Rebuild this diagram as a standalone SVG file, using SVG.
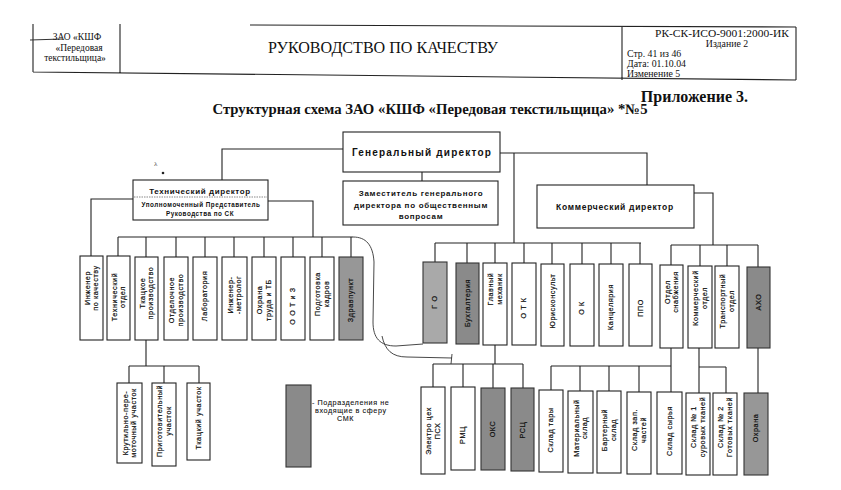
<svg xmlns="http://www.w3.org/2000/svg" width="841" height="490" viewBox="0 0 841 490">
<style>
.b{fill:#fff;stroke:#222;stroke-width:1.1}
.g1{fill:#a9a9a9;stroke:#333;stroke-width:1.1}
.g2{fill:#8a8a8a;stroke:#333;stroke-width:1.1}
.g3{fill:#979797;stroke:#333;stroke-width:1.1}
.c{fill:none;stroke:#222;stroke-width:1.1}
.pen{fill:none;stroke:#333;stroke-width:0.9}
.v{font-family:"Liberation Sans",Arial,sans-serif;font-size:7.2px;letter-spacing:0.6px;fill:#111;stroke:#111;stroke-width:0.2;text-anchor:middle}
.d{font-family:"Liberation Sans",Arial,sans-serif;font-weight:bold;fill:#111;text-anchor:middle}
.s{font-family:"Liberation Serif","Times New Roman",serif;fill:#111}
</style>
<rect width="841" height="490" fill="#fff"/>
<!-- header -->
<g id="header">
<path class="c" d="M33,24 V72 M120,24 V73 M250,25 L796,27 M622,27 V80 M796,27 V80 M33,72 L796,80"/>
<line x1="30" y1="40" x2="62" y2="39" stroke="#333" stroke-width="1"/>
<text class="s" font-size="9.5" text-anchor="middle"><tspan x="77" y="40">ЗАО «КШФ</tspan><tspan x="79" y="51">«Передовая</tspan><tspan x="75" y="61">текстильщица»</tspan></text>
<text class="s" x="383" y="53" font-size="16" text-anchor="middle" textLength="230" lengthAdjust="spacingAndGlyphs">РУКОВОДСТВО ПО КАЧЕСТВУ</text>
<text class="s" font-size="9.8"><tspan x="722" y="37" text-anchor="middle" textLength="134" lengthAdjust="spacingAndGlyphs">РК-СК-ИСО-9001:2000-ИК</tspan><tspan x="727" y="47" text-anchor="middle">Издание  2</tspan><tspan x="627" y="57">Стр. 41  из  46</tspan><tspan x="627" y="67">Дата: 01.10.04</tspan><tspan x="627" y="77">Изменение 5</tspan></text>
</g>
<g id="title">
<text class="s" x="748" y="102" font-size="16" font-weight="bold" text-anchor="end">Приложение 3.</text>
<text class="s" x="430" y="114" font-size="14.5" font-weight="bold" text-anchor="middle" textLength="435" lengthAdjust="spacingAndGlyphs">Структурная  схема  ЗАО  «КШФ  «Передовая  текстильщица»  *№5</text>
</g>
<text x="154" y="166" font-family="Liberation Serif,serif" font-size="7" fill="#444">λ</text>
<circle cx="163" cy="173" r="1.3" fill="#222"/>

<!-- connectors -->
<g id="connectors">
<path class="c" d="M343,149 H222 V180"/>
<path class="c" d="M422,172 V181"/>
<path class="c" d="M500,153 H647 V185"/>
<path class="c" d="M514,153 V243 M435,243 H641 M435,243 V262 M467,243 V263 M495,243 V263 M524,243 V263 M552,243 V264 M582,243 V264 M611,243 V264 M640,243 V264"/>
<path class="c" d="M694,193 H713 V245 M671,245 H758 M671,245 V265 M700,245 V266 M727,245 V266 M758,245 V267"/>
<path class="c" d="M133,199 H91 V256"/>
<path class="c" d="M268,201 H313 V237 M118,237 H353 M118,237 V256 M146,237 V257 M176,237 V257 M205,237 V257 M234,237 V257 M264,237 V257 M293,237 V257 M322,237 V257 M351,237 V257"/>
<path class="c" d="M495,345 V364 M433,364 H523 M433,364 V387 M463,364 V387 M493,364 V388 M523,364 V388"/>
<path class="c" d="M671,348 V366 M551,366 H671 M551,366 V390 M580,366 V391 M609,366 V391 M639,366 V392 M671,366 V392"/>
<path class="c" d="M699,348 V367 H726 M699,367 V393 M726,367 V393"/>
<path class="c" d="M758,348 V393"/>
<path class="c" d="M146,340 V366 M129,366 H199 M129,366 V383 M164,366 V383 M199,366 V383"/>
<path class="pen" d="M353,237 C366,237 373,245 374,262 L373,322 C373,338 380,346 396,346 L423,344"/>
<path class="pen" d="M382,336 C385,350 392,357 407,357 L452,358 M452,354 L451,364"/>
</g>

<!-- directors -->
<g id="gen"><rect class="b" x="343" y="132" width="157" height="40"/><text class="d" x="422" y="156" font-size="10" letter-spacing="1.2">Генеральный  директор</text></g>
<g id="zam"><rect class="b" x="343" y="181" width="155" height="44"/><text class="d" font-size="8" letter-spacing="0.7"><tspan x="421" y="196">Заместитель генерального</tspan><tspan x="421" y="208">директора по общественным</tspan><tspan x="421" y="219">вопросам</tspan></text></g>
<g id="kom"><rect class="b" x="537" y="185" width="157" height="43"/><text class="d" x="615" y="210" font-size="8.5" letter-spacing="0.7">Коммерческий директор</text></g>
<g id="teh"><rect class="b" x="133" y="180" width="135" height="40"/><line x1="134" y1="197" x2="267" y2="197" stroke="#555" stroke-width="0.7" stroke-dasharray="1.5,1"/><text class="d" x="200" y="194" font-size="8" letter-spacing="0.6">Технический директор</text><text class="d" font-size="6.3" letter-spacing="0.5"><tspan x="201" y="207">Уполномоченный  Представитель</tspan><tspan x="200" y="216">Руководства  по  СК</tspan></text></g>

<!-- left row -->
<g id="n1"><rect class="b" x="80" y="256" width="23" height="84"/><text class="v" transform="translate(91.5,288) rotate(-90)"><tspan x="0" y="-2">Инженер</tspan><tspan x="0" y="6.5">по качеству</tspan></text></g>
<g id="n2"><rect class="b" x="107" y="256" width="23" height="84"/><text class="v" transform="translate(118.5,297) rotate(-90)"><tspan x="0" y="-2">Технический</tspan><tspan x="0" y="6.5">отдел</tspan></text></g>
<g id="n3"><rect class="b" x="135" y="257" width="23" height="83"/><text class="v" transform="translate(146.5,293) rotate(-90)"><tspan x="0" y="-2">Ткацкое</tspan><tspan x="0" y="6.5">производство</tspan></text></g>
<g id="n4"><rect class="b" x="164" y="257" width="24" height="83"/><text class="v" transform="translate(176,300) rotate(-90)"><tspan x="0" y="-2">Отделочное</tspan><tspan x="0" y="6.5">производство</tspan></text></g>
<g id="n5"><rect class="b" x="193" y="257" width="24" height="83"/><text class="v" transform="translate(205,296) rotate(-90)" y="2.4">Лаборатория</text></g>
<g id="n6"><rect class="b" x="222" y="257" width="25" height="83"/><text class="v" transform="translate(234.5,295) rotate(-90)"><tspan x="0" y="-2">Инженер-</tspan><tspan x="0" y="6.5">-метролог</tspan></text></g>
<g id="n7"><rect class="b" x="252" y="257" width="24" height="83"/><text class="v" transform="translate(264,300) rotate(-90)"><tspan x="0" y="-2">Охрана</tspan><tspan x="0" y="6.5">труда  и  ТБ</tspan></text></g>
<g id="n8"><rect class="b" x="281" y="257" width="24" height="83"/><text class="v" transform="translate(293,306) rotate(-90)" y="2.4">О О Т  и  З</text></g>
<g id="n9"><rect class="b" x="310" y="257" width="24" height="83"/><text class="v" transform="translate(322,294) rotate(-90)"><tspan x="0" y="-2">Подготовка</tspan><tspan x="0" y="6.5">кадров</tspan></text></g>
<g id="n10"><rect class="g3" x="339" y="257" width="24" height="83"/><text class="v" transform="translate(351,300) rotate(-90)" y="2.4">Здравпункт</text></g>

<!-- middle row -->
<g id="m1"><rect class="g1" x="423" y="262" width="24" height="81"/><text class="v" transform="translate(435,302) rotate(-90)" y="2.4">Г О</text></g>
<g id="m2"><rect class="g2" x="456" y="263" width="23" height="81"/><text class="v" transform="translate(467.5,303) rotate(-90)" y="2.4">Бухгалтерия</text></g>
<g id="m3"><rect class="b" x="483" y="263" width="24" height="82"/><text class="v" transform="translate(495,289) rotate(-90)"><tspan x="0" y="-2">Главный</tspan><tspan x="0" y="6.5">механик</tspan></text></g>
<g id="m4"><rect class="b" x="512" y="263" width="24" height="82"/><text class="v" transform="translate(524,308) rotate(-90)" y="2.4">О Т К</text></g>
<g id="m5"><rect class="b" x="541" y="264" width="23" height="82"/><text class="v" transform="translate(552.5,301) rotate(-90)" y="2.4">Юрисконсульт</text></g>
<g id="m6"><rect class="b" x="570" y="264" width="24" height="82"/><text class="v" transform="translate(582,308) rotate(-90)" y="2.4">О К</text></g>
<g id="m7"><rect class="b" x="599" y="264" width="24" height="82"/><text class="v" transform="translate(611,307) rotate(-90)" y="2.4">Канцелярия</text></g>
<g id="m8"><rect class="b" x="629" y="264" width="23" height="82"/><text class="v" transform="translate(640.5,308) rotate(-90)" y="2.4">ППО</text></g>
<g id="r1"><rect class="b" x="660" y="265" width="23" height="83"/><text class="v" transform="translate(671.5,292) rotate(-90)"><tspan x="0" y="-2">Отдел</tspan><tspan x="0" y="6.5">снабжения</tspan></text></g>
<g id="r2"><rect class="b" x="688" y="266" width="24" height="82"/><text class="v" transform="translate(700,298) rotate(-90)"><tspan x="0" y="-2">Коммерческий</tspan><tspan x="0" y="6.5">отдел</tspan></text></g>
<g id="r3"><rect class="b" x="715" y="266" width="24" height="82"/><text class="v" transform="translate(727,301) rotate(-90)"><tspan x="0" y="-2">Транспортный</tspan><tspan x="0" y="6.5">отдел</tspan></text></g>
<g id="r4"><rect class="g2" x="747" y="267" width="23" height="81"/><text class="v" transform="translate(758.5,302) rotate(-90)" y="2.4">АХО</text></g>

<!-- lower row -->
<g id="l1"><rect class="b" x="421" y="387" width="24" height="87"/><text class="v" transform="translate(433,431) rotate(-90)"><tspan x="0" y="-2">Электро цех</tspan><tspan x="0" y="6.5">ПСХ</tspan></text></g>
<g id="l2"><rect class="b" x="451" y="387" width="24" height="83"/><text class="v" transform="translate(463,435) rotate(-90)" y="2.4">РМЦ</text></g>
<g id="l3"><rect class="g2" x="481" y="388" width="24" height="82"/><text class="v" transform="translate(493,429) rotate(-90)" y="2.4">ОКС</text></g>
<g id="l4"><rect class="g2" x="511" y="388" width="23" height="83"/><text class="v" transform="translate(522.5,430) rotate(-90)" y="2.4">РСЦ</text></g>
<g id="l5"><rect class="b" x="539" y="390" width="24" height="82"/><text class="v" transform="translate(551,430) rotate(-90)" y="2.4">Склад  тары</text></g>
<g id="l6"><rect class="b" x="568" y="391" width="25" height="82"/><text class="v" transform="translate(580.5,428) rotate(-90)"><tspan x="0" y="-2">Материальный</tspan><tspan x="0" y="6.5">склад</tspan></text></g>
<g id="l7"><rect class="b" x="597" y="391" width="24" height="82"/><text class="v" transform="translate(609,430) rotate(-90)"><tspan x="0" y="-2">Бартерный</tspan><tspan x="0" y="6.5">склад</tspan></text></g>
<g id="l8"><rect class="b" x="627" y="392" width="24" height="82"/><text class="v" transform="translate(639,430) rotate(-90)"><tspan x="0" y="-2">Склад  зап.</tspan><tspan x="0" y="6.5">частей</tspan></text></g>
<g id="l9"><rect class="b" x="657" y="392" width="25" height="82"/><text class="v" transform="translate(669.5,431) rotate(-90)" y="2.4">Склад  сырья</text></g>
<g id="l10"><rect class="b" x="686" y="393" width="24" height="82"/><text class="v" transform="translate(698,427) rotate(-90)"><tspan x="0" y="-2">Склад  № 1</tspan><tspan x="0" y="6.5">суровых  тканей</tspan></text></g>
<g id="l11"><rect class="b" x="713" y="393" width="24" height="82"/><text class="v" transform="translate(725,427) rotate(-90)"><tspan x="0" y="-2">Склад  № 2</tspan><tspan x="0" y="6.5">Готовых  тканей</tspan></text></g>
<g id="l12"><rect class="g3" x="744" y="393" width="24" height="82"/><text class="v" transform="translate(756,428) rotate(-90)" y="2.4">Охрана</text></g>

<!-- weaving sub-units -->
<g id="w1"><rect class="b" x="117" y="383" width="25" height="80"/><text class="v" transform="translate(129.5,423) rotate(-90)" font-size="6.5" letter-spacing="0.3"><tspan x="0" y="-2">Крутильно-пере-</tspan><tspan x="0" y="6.5">моточный  участок</tspan></text></g>
<g id="w2"><rect class="b" x="152" y="383" width="24" height="83"/><text class="v" transform="translate(164,421) rotate(-90)" font-size="6.5" letter-spacing="0.3"><tspan x="0" y="-2">Приготовительный</tspan><tspan x="0" y="6.5">участок</tspan></text></g>
<g id="w3"><rect class="b" x="187" y="383" width="23" height="77"/><text class="v" transform="translate(198.5,418) rotate(-90)" y="2.4">Ткацкий  участок</text></g>

<!-- legend -->
<g id="legend"><rect class="g2" x="286" y="385" width="25" height="82"/><text class="v" font-size="6.3" style="text-anchor:start;stroke-width:0.1"><tspan x="312" y="405">- Подразделения не</tspan><tspan x="315" y="413">входящие в сферу</tspan><tspan x="337" y="421">СМК</tspan></text></g>
</svg>
